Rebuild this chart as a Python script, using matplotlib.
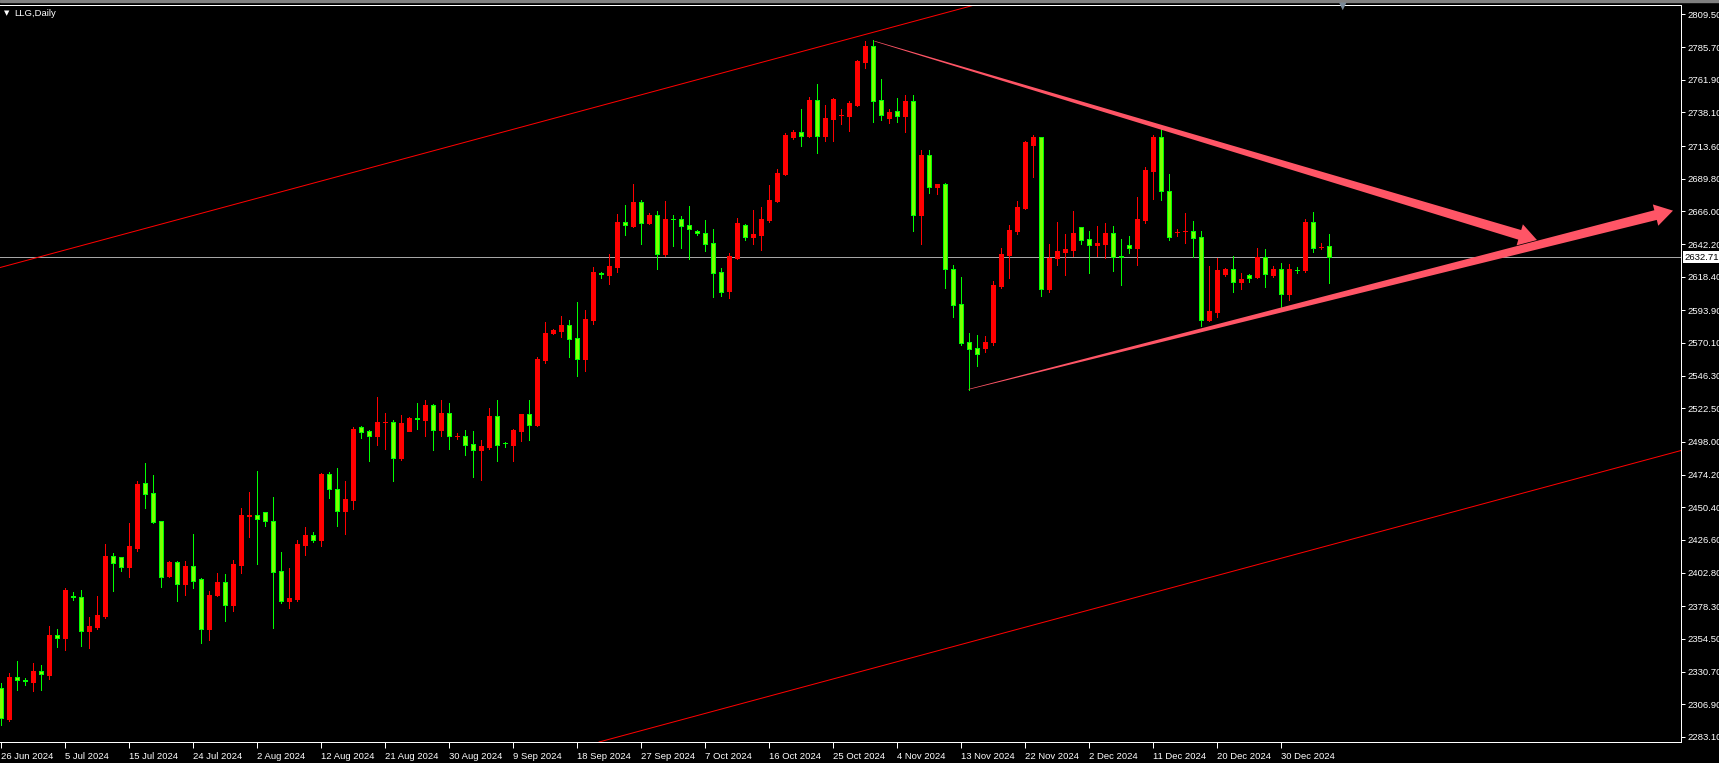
import numpy as np
import matplotlib
matplotlib.use("Agg")
import matplotlib.pyplot as plt
from matplotlib.patches import Polygon, Rectangle
from matplotlib.transforms import blended_transform_factory

# LLG daily bars, 26 Jun 2024 .. 6 Jan 2025 (broker shows Sunday sessions too)
opens = [2318.5, 2296.1, 2326.7, 2324.5, 2323.3, 2331.1, 2328.2, 2357.3, 2355.4, 2385.7,
         2385.0, 2360.5, 2363.4, 2371.4, 2414.9, 2414.2, 2407.1, 2421.0, 2468.1, 2460.8,
         2440.4, 2400.6, 2410.5, 2394.7, 2407.6, 2398.1, 2361.7, 2386.5, 2395.9, 2379.2,
         2408.3, 2444.3, 2444.5, 2446.7, 2440.1, 2404.0, 2382.3, 2383.3, 2423.1, 2430.2,
         2426.8, 2474.4, 2463.7, 2447.9, 2455.9, 2508.6, 2505.7, 2502.6, 2512.3, 2512.5,
         2486.5, 2506.2, 2515.1, 2514.2, 2524.9, 2506.9, 2519.1, 2502.2, 2502.3, 2496.5,
         2492.4, 2494.5, 2516.9, 2497.2, 2496.0, 2506.2, 2518.3, 2510.3, 2557.9, 2577.6,
         2578.8, 2583.2, 2573.7, 2558.7, 2587.1, 2620.9, 2619.9, 2625.7, 2658.2, 2655.6,
         2672.8, 2657.7, 2663.3, 2635.2, 2660.5, 2660.4, 2656.0, 2651.7, 2650.2, 2642.9,
         2621.6, 2607.9, 2632.2, 2655.8, 2647.5, 2649.0, 2659.7, 2673.5, 2693.2, 2720.2,
         2723.8, 2720.9, 2747.1, 2720.9, 2733.5, 2736.1, 2735.7, 2743.5, 2775.0, 2786.5,
         2747.1, 2734.2, 2739.1, 2735.7, 2746.4, 2663.6, 2707.0, 2684.0, 2686.2, 2623.7,
         2598.2, 2570.5, 2566.2, 2566.7, 2571.0, 2611.8, 2634.2, 2651.9, 2668.7, 2714.3,
         2720.2, 2609.7, 2632.2, 2636.6, 2637.8, 2654.6, 2645.8, 2641.5, 2642.2, 2650.2,
         2633.7, 2641.5, 2639.5, 2659.7, 2695.6, 2720.2, 2680.8, 2650.8, 2651.5, 2651.7,
         2647.3, 2587.1, 2592.9, 2620.6, 2624.0, 2614.8, 2619.6, 2618.4, 2632.7, 2619.6,
         2624.0, 2606.0, 2623.6, 2623.5, 2658.2, 2640.0, 2640.7]
highs = [2322.1, 2329.4, 2338.4, 2325.7, 2336.7, 2335.5, 2363.9, 2361.4, 2391.3, 2388.4,
         2390.1, 2370.2, 2385.7, 2423.6, 2416.8, 2414.2, 2438.9, 2469.5, 2482.6, 2473.9,
         2440.4, 2411.2, 2411.2, 2411.2, 2430.9, 2398.9, 2389.4, 2402.3, 2401.8, 2412.0,
         2449.9, 2461.5, 2476.8, 2446.7, 2457.9, 2417.8, 2406.1, 2426.5, 2436.0, 2432.4,
         2475.4, 2476.1, 2479.0, 2469.5, 2509.1, 2509.6, 2506.7, 2530.7, 2519.1, 2514.0,
         2517.6, 2516.4, 2526.4, 2528.5, 2525.6, 2528.5, 2526.4, 2504.5, 2506.7, 2506.0,
         2499.4, 2522.7, 2528.5, 2498.2, 2507.4, 2518.3, 2528.5, 2560.1, 2585.4, 2580.3,
         2589.7, 2586.8, 2599.9, 2594.1, 2625.4, 2622.0, 2634.9, 2664.1, 2670.6, 2685.9,
         2674.3, 2664.8, 2666.2, 2673.5, 2663.3, 2662.6, 2669.9, 2652.4, 2659.7, 2653.1,
         2624.7, 2635.6, 2661.1, 2656.8, 2667.0, 2669.1, 2685.2, 2696.8, 2723.1, 2725.3,
         2740.6, 2749.3, 2758.8, 2743.5, 2748.6, 2740.6, 2746.4, 2776.3, 2790.1, 2790.8,
         2762.4, 2740.6, 2748.6, 2750.8, 2750.8, 2710.7, 2710.7, 2685.9, 2686.9, 2626.9,
         2618.2, 2577.3, 2575.9, 2575.2, 2615.2, 2639.3, 2656.0, 2673.5, 2717.2, 2721.6,
         2720.2, 2642.2, 2658.2, 2649.5, 2666.2, 2654.6, 2651.7, 2655.3, 2657.5, 2655.3,
         2645.8, 2648.0, 2676.4, 2698.3, 2721.6, 2726.0, 2693.2, 2653.1, 2664.8, 2659.0,
         2651.7, 2626.2, 2632.0, 2624.7, 2633.5, 2621.1, 2620.3, 2639.3, 2638.6, 2626.2,
         2628.4, 2627.6, 2625.4, 2660.4, 2665.5, 2642.9, 2649.5]
lows = [2291.7, 2294.9, 2317.2, 2320.9, 2316.5, 2317.2, 2325.3, 2348.8, 2346.4, 2382.8,
        2349.3, 2348.1, 2361.7, 2369.9, 2389.4, 2403.9, 2399.6, 2418.5, 2449.9, 2438.9,
        2392.5, 2399.6, 2382.1, 2386.5, 2391.6, 2351.5, 2353.7, 2385.7, 2367.5, 2374.8,
        2402.7, 2429.0, 2409.3, 2437.0, 2362.7, 2380.4, 2377.2, 2382.3, 2415.9, 2425.3,
        2422.4, 2457.4, 2437.0, 2431.2, 2449.4, 2501.1, 2484.3, 2495.8, 2492.8, 2469.8,
        2485.1, 2506.2, 2507.4, 2502.6, 2492.4, 2502.6, 2493.1, 2500.4, 2488.7, 2472.7,
        2470.5, 2493.1, 2484.3, 2494.5, 2484.3, 2498.9, 2499.4, 2509.6, 2555.7, 2576.9,
        2574.7, 2560.1, 2546.3, 2549.9, 2584.2, 2617.7, 2613.3, 2622.0, 2649.0, 2654.8,
        2642.4, 2657.0, 2624.2, 2633.7, 2641.0, 2639.5, 2631.5, 2649.0, 2637.3, 2603.8,
        2604.6, 2603.1, 2631.5, 2645.3, 2642.4, 2638.1, 2658.5, 2673.0, 2692.5, 2718.7,
        2713.9, 2720.2, 2708.7, 2717.2, 2717.5, 2729.9, 2724.8, 2742.7, 2770.7, 2731.3,
        2732.8, 2730.6, 2731.3, 2724.0, 2651.9, 2642.4, 2679.6, 2678.9, 2610.4, 2589.3,
        2568.9, 2536.1, 2553.5, 2563.8, 2568.6, 2610.4, 2617.7, 2649.7, 2667.9, 2691.0,
        2604.5, 2607.5, 2626.9, 2619.6, 2633.7, 2642.4, 2621.3, 2633.5, 2632.2, 2622.5,
        2612.6, 2635.6, 2627.1, 2657.7, 2675.2, 2674.5, 2645.4, 2648.3, 2643.2, 2632.7,
        2582.7, 2586.3, 2589.2, 2619.1, 2607.5, 2609.4, 2614.8, 2617.7, 2611.1, 2618.4,
        2595.8, 2601.6, 2621.3, 2622.0, 2636.6, 2638.8, 2614.0]
closes = [2296.6, 2326.7, 2324.8, 2324.0, 2331.1, 2328.7, 2357.3, 2355.4, 2390.1, 2384.8,
          2360.5, 2363.9, 2371.9, 2414.9, 2410.0, 2407.1, 2422.2, 2467.3, 2460.3, 2439.9,
          2399.8, 2410.8, 2394.7, 2407.6, 2396.9, 2361.9, 2386.5, 2395.9, 2379.4, 2409.1,
          2444.8, 2444.6, 2442.1, 2440.1, 2403.5, 2382.3, 2384.3, 2423.6, 2430.2, 2426.8,
          2474.9, 2463.5, 2447.9, 2456.4, 2507.4, 2505.5, 2502.6, 2512.5, 2512.6, 2486.5,
          2511.8, 2515.7, 2514.9, 2524.9, 2506.9, 2519.1, 2502.1, 2502.5, 2496.0, 2492.4,
          2495.0, 2516.9, 2496.0, 2496.9, 2506.7, 2518.3, 2510.6, 2558.4, 2577.4, 2579.5,
          2583.2, 2573.2, 2558.7, 2587.6, 2621.8, 2620.6, 2626.2, 2658.2, 2655.8, 2672.8,
          2657.7, 2663.3, 2635.2, 2660.4, 2660.2, 2655.6, 2653.4, 2650.0, 2642.4, 2621.3,
          2607.5, 2633.5, 2657.5, 2647.5, 2649.5, 2660.4, 2674.3, 2693.9, 2721.6, 2723.8,
          2721.1, 2747.1, 2721.1, 2734.0, 2747.8, 2736.3, 2744.9, 2775.5, 2786.5, 2746.6,
          2736.4, 2738.4, 2735.7, 2746.4, 2663.6, 2707.0, 2684.0, 2685.9, 2623.7, 2598.0,
          2570.3, 2565.9, 2562.3, 2570.5, 2612.3, 2634.9, 2652.4, 2669.2, 2716.5, 2720.1,
          2609.7, 2632.0, 2637.1, 2638.5, 2650.2, 2645.1, 2641.7, 2642.9, 2650.2, 2633.0,
          2632.7, 2639.5, 2660.4, 2696.1, 2720.2, 2680.6, 2647.5, 2651.0, 2651.8, 2646.8,
          2587.1, 2593.4, 2623.2, 2624.0, 2614.8, 2616.7, 2617.7, 2632.7, 2620.6, 2624.0,
          2606.0, 2624.0, 2623.4, 2658.2, 2639.5, 2640.3, 2632.71]

# one label every 8 bars, starting at the first bar
date_labels = ["26 Jun 2024", "5 Jul 2024", "15 Jul 2024", "24 Jul 2024", "2 Aug 2024",
               "12 Aug 2024", "21 Aug 2024", "30 Aug 2024", "9 Sep 2024", "18 Sep 2024",
               "27 Sep 2024", "7 Oct 2024", "16 Oct 2024", "25 Oct 2024", "4 Nov 2024",
               "13 Nov 2024", "22 Nov 2024", "2 Dec 2024", "11 Dec 2024", "20 Dec 2024",
               "30 Dec 2024"]
price_ticks = [2283.10, 2306.90, 2330.70, 2354.50, 2378.30, 2402.80, 2426.60, 2450.40,
               2474.20, 2498.00, 2522.50, 2546.30, 2570.10, 2593.90, 2618.40, 2642.20,
               2666.00, 2689.80, 2713.60, 2738.10, 2761.90, 2785.70, 2809.50]
last_price = 2632.71

# drawn objects, as (bar, price)
channel_top = [(86.16, 2760.5), (110.1, 2798.1)]
channel_bottom = (74.3, 2278.6)
arrow_down = [(109.2, 2790.0), (192.0, 2645.1)]
arrow_up = [(120.95, 2536.3), (209.0, 2666.5)]

W, H, DPI = 1719, 763, 100
PX = 72 / DPI  # one pixel in points
BULL, BEAR, BEAR_FILL = "#ff0000", "#00ff00", "#7cff00"
ARROW = "#ff5566"


def tapered_arrow(ax, tail, tip, shaft, head_len, head_w, color):
    # build the shape in pixels, then hand it back in data coords
    t = ax.transData.transform(tail)
    p = ax.transData.transform(tip)
    u = (p - t) / np.hypot(*(p - t))
    n = np.array([-u[1], u[0]])
    base = p - u * head_len
    pts = [t + n * 0.3, base + n * shaft / 2, base + n * head_w / 2, p,
           base - n * head_w / 2, base - n * shaft / 2, t - n * 0.3]
    pts = ax.transData.inverted().transform(np.array(pts))
    ax.add_patch(Polygon(pts, closed=True, facecolor=color, edgecolor="none", zorder=6))


def main():
    fig = plt.figure(figsize=(W / DPI, H / DPI), dpi=DPI, facecolor="black")
    ax = fig.add_axes([0, 21 / H, 1681 / W, (742 - 4.5) / H])
    ax.set_facecolor("black")
    ax.set_xlim(-0.0875, 210.0)
    ax.set_ylim(2279.36, 2816.7)

    o, h, l, c = (np.array(a) for a in (opens, highs, lows, closes))
    x = np.arange(len(o))
    up = c >= o
    ax.vlines(x[up], l[up], h[up], colors=BULL, linewidth=PX, antialiased=False, zorder=3)
    ax.vlines(x[~up], l[~up], h[~up], colors=BEAR, linewidth=PX, antialiased=False, zorder=3)
    lo = np.minimum(o, c)
    hgt = np.abs(c - o)
    ax.bar(x[up], hgt[up], bottom=lo[up], width=0.5, color=BULL, edgecolor=BULL,
           linewidth=PX, antialiased=False, zorder=4)
    ax.bar(x[~up], hgt[~up], bottom=lo[~up], width=0.5, color=BEAR_FILL, edgecolor=BEAR,
           linewidth=PX, antialiased=False, zorder=4)

    ax.axhline(last_price, color="#a6a6a6", linewidth=PX, zorder=2)

    # equidistant channel
    (x1, y1), (x2, y2) = channel_top
    slope = (y2 - y1) / (x2 - x1)
    ax.axline(channel_top[0], channel_top[1], color="red", linewidth=PX, zorder=2)
    ax.axline(channel_bottom, slope=slope, color="red", linewidth=PX, zorder=2)

    tapered_arrow(ax, arrow_down[0], arrow_down[1], 10, 18, 22, ARROW)
    tapered_arrow(ax, arrow_up[0], arrow_up[1], 10, 18, 22, ARROW)

    # axes look
    for side in ("top", "right", "bottom"):
        ax.spines[side].set_color("white")
        ax.spines[side].set_linewidth(PX)
    ax.spines["left"].set_visible(False)

    ax.yaxis.tick_right()
    ax.set_yticks(price_ticks)
    ax.set_yticklabels([f"{v:.2f}" for v in price_ticks])
    ax.tick_params(axis="y", colors="white", length=3, width=PX, pad=2, labelsize=6.8)
    ax.set_xticks(np.arange(len(date_labels)) * 8)
    ax.set_xticklabels(date_labels)
    ax.tick_params(axis="x", colors="white", length=4, width=PX, pad=3, labelsize=6.8)
    for lbl in ax.get_xticklabels():
        lbl.set_horizontalalignment("left")
    for lbl in ax.get_xticklabels() + ax.get_yticklabels():
        lbl.set_fontfamily("Liberation Sans")

    # current price tag on the scale
    tr = blended_transform_factory(ax.transAxes, ax.transData)
    ax.text(1.002, last_price, f"{last_price:.2f}", transform=tr, ha="left", va="center",
            color="black", fontsize=6.8, family="Liberation Sans", clip_on=False, zorder=10,
            bbox=dict(facecolor="white", edgecolor="none", boxstyle="square,pad=0.15"))

    # window chrome
    fig.patches.append(Rectangle((0, 1 - 2 / H), 1, 2 / H, transform=fig.transFigure,
                                 color="#808080", zorder=0))
    fig.text(4 / W, 1 - 13.5 / H, "\u25bc", color="white", fontsize=5, va="center",
             family="DejaVu Sans")
    fig.text(14 / W, 1 - 13.5 / H, "LLG,Daily", color="white", fontsize=6.8, va="center",
             family="Liberation Sans")
    fig.text(1343 / W, 1 - 6 / H, "\u25bc", color="#7a8a9a", fontsize=7, ha="center",
             va="center", family="DejaVu Sans")

    fig.savefig("out.png", dpi=DPI, facecolor="black")


if __name__ == "__main__":
    main()
